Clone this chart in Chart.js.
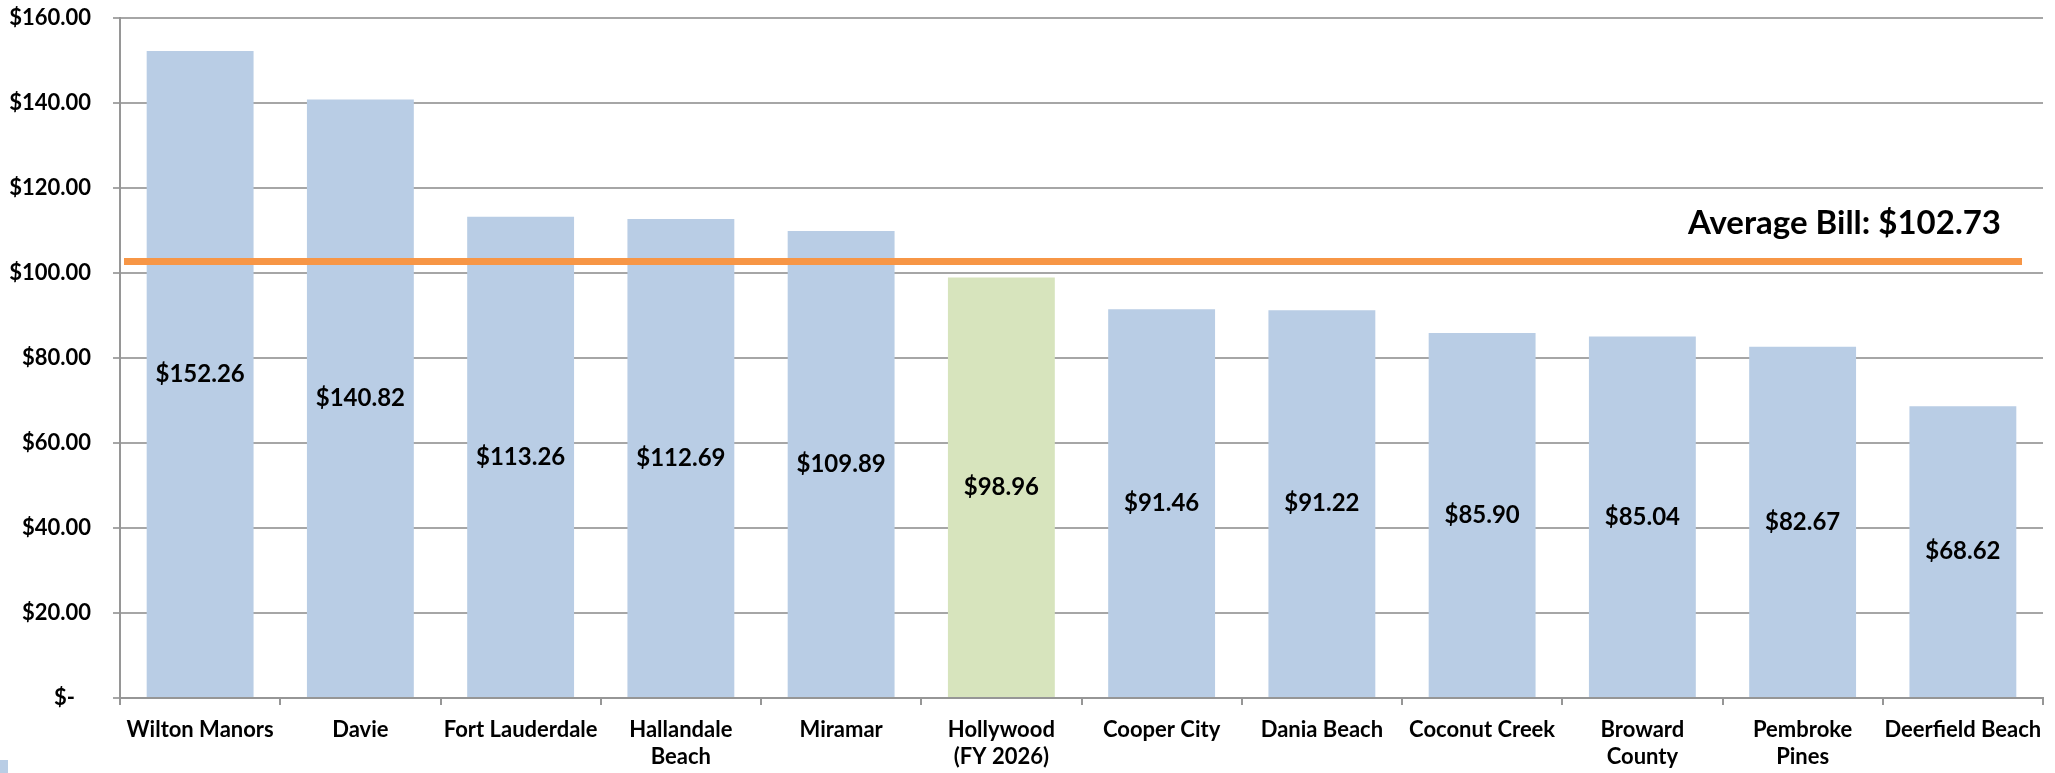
<!DOCTYPE html>
<html><head><meta charset="utf-8">
<script src="https://cdn.jsdelivr.net/npm/chart.js@4/dist/chart.umd.min.js"></script>
<style>html,body{margin:0;padding:0;background:#fff}#wrap{width:2055px;height:773px;position:relative}</style>
</head><body><div id="wrap"><canvas id="c"></canvas></div>
<script>
const categories = [["Wilton Manors"],["Davie"],["Fort Lauderdale"],["Hallandale","Beach"],["Miramar"],["Hollywood","(FY 2026)"],["Cooper City"],["Dania Beach"],["Coconut Creek"],["Broward","County"],["Pembroke","Pines"],["Deerfield Beach"]];
const bills = [152.26,140.82,113.26,112.69,109.89,98.96,91.46,91.22,85.90,85.04,82.67,68.62];
const highlightIndex = 5;
const averageBill = 102.73;
const yTicks = [0,20,40,60,80,100,120,140,160];

const FONT = "Lato, 'Open Sans', sans-serif";
const blue = '#B9CDE5', green = '#D7E4BD';

const avgPlugin = {
  id:'avg',
  afterDatasetsDraw(chart){
    const {ctx, chartArea, scales:{y}} = chart;
    const py = y.getPixelForValue(averageBill);
    ctx.save();
    ctx.strokeStyle = '#F79646'; ctx.lineWidth = 7; ctx.lineCap='butt';
    ctx.beginPath(); ctx.moveTo(chartArea.left+4, py); ctx.lineTo(chartArea.right-21, py); ctx.stroke();
    ctx.fillStyle='#000'; ctx.font = "bold 33px "+FONT; ctx.textAlign='right'; ctx.textBaseline='middle';
    ctx.fillText('Average Bill: $' + averageBill.toFixed(2), chartArea.right-42, py-38);
    ctx.font = "bold 24px "+FONT; ctx.textAlign='center'; ctx.textBaseline='middle';
    chart.getDatasetMeta(0).data.forEach((bar,i)=>{
      const mid = (bar.y + bar.base)/2;
      ctx.fillText('$'+bills[i].toFixed(2), bar.x, mid);
    });
    ctx.fillStyle = blue; ctx.fillRect(0, 760, 8, 13);
    ctx.restore();
  }
};

new Chart(document.getElementById('c'), {
  type:'bar',
  data:{labels:categories, datasets:[{data:bills, backgroundColor:bills.map((v,i)=>i===highlightIndex?green:blue), barPercentage:0.667, categoryPercentage:1}]},
  options:{
    responsive:true, maintainAspectRatio:false, animation:false,
    layout:{padding:{top:18,right:12,left:0,bottom:0}},
    plugins:{legend:{display:false}, tooltip:{enabled:false}},
    scales:{
      x:{
        afterFit(ax){ ax.height = 75; ax.paddingLeft = 0; ax.paddingRight = 0; },
        grid:{display:true, drawOnChartArea:false, drawTicks:true, tickLength:7, offset:true, color:'#969696', lineWidth:2},
        border:{color:'#969696', width:2},
        ticks:{color:'#000', font:{family:FONT, size:22, weight:'bold', lineHeight:1.25}, padding:11, maxRotation:0, autoSkip:false}
      },
      y:{
        min:0, max:160,
        afterBuildTicks(ax){ ax.ticks = yTicks.map(v=>({value:v})); },
        afterFit(ax){ ax.width = 120; ax.paddingTop = 0; ax.paddingBottom = 0; },
        grid:{color:'#A6A6A6', lineWidth:2, tickLength:7, drawTicks:true},
        border:{color:'#969696', width:2},
        ticks:{color:'#000', font:{family:FONT, size:22, weight:'bold'}, padding:22,
          callback:(v)=> v===0 ? '$-\u00a0\u00a0\u00a0' : '$'+Number(v).toFixed(2)}
      }
    }
  },
  plugins:[avgPlugin]
});
</script></body></html>
